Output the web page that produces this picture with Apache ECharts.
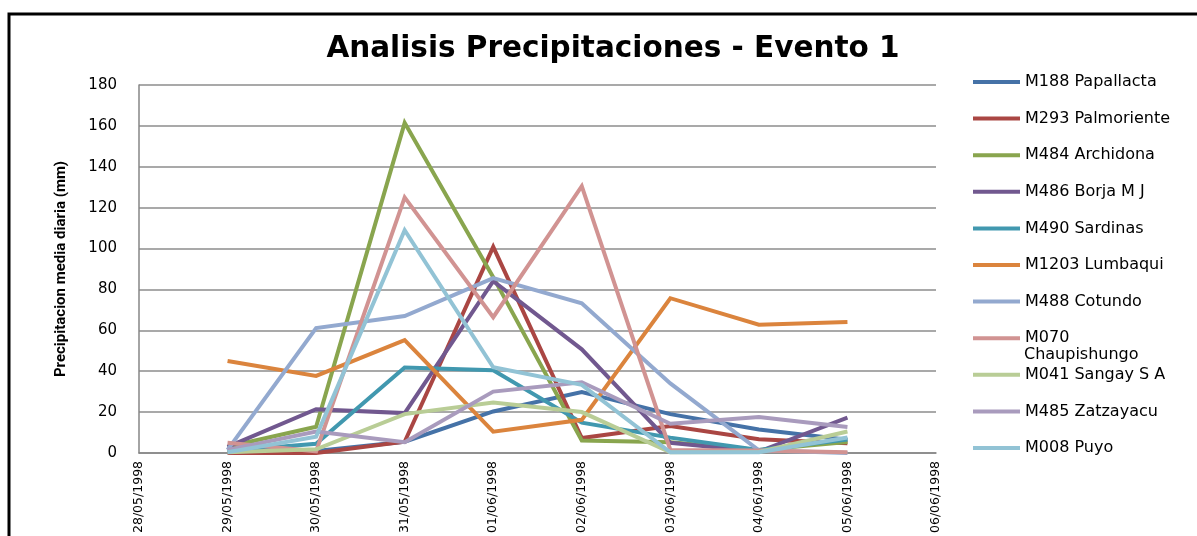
<!DOCTYPE html>
<html>
<head>
<meta charset="utf-8">
<script src="https://cdn.jsdelivr.net/npm/echarts@6/dist/echarts.min.js"></script>
<style>
  html, body { margin: 0; padding: 0; background: #fff; }
  #chart { width: 1197px; height: 536px; }
</style>
</head>
<body>
<div id="chart"></div>
<script>
// Daily dates on the category axis
const dates = ['28/05/1998', '29/05/1998', '30/05/1998', '31/05/1998', '01/06/1998',
               '02/06/1998', '03/06/1998', '04/06/1998', '05/06/1998', '06/06/1998'];

// Mean daily precipitation (mm) per station, 28/05 .. 06/06 (no readings on the end days)
const m188Papallacta   = [null, 0.5, 1.0, 5.5, 20.3, 29.8, 19.0, 11.5, 6.5, null];
const m293Palmoriente  = [null, 0.0, 0.0, 5.5, 100.8, 7.3, 13.2, 6.7, 4.8, null];
const m484Archidona    = [null, 3.0, 12.8, 161.5, 86.0, 6.1, 5.2, 1.5, 5.3, null];
const m486BorjaMJ      = [null, 3.0, 21.4, 19.5, 84.0, 50.7, 5.0, 0.7, 17.3, null];
const m490Sardinas     = [null, 1.0, 4.5, 41.8, 40.5, 14.8, 7.5, 1.5, 6.6, null];
const m1203Lumbaqui    = [null, 45.0, 37.7, 55.2, 10.4, 16.2, 75.7, 62.7, 64.1, null];
const m488Cotundo      = [null, 1.5, 61.1, 67.0, 85.5, 73.2, 34.0, 1.3, 0.0, null];
const m070Chaupishungo = [null, 5.0, 0.8, 125.0, 66.4, 130.5, 1.5, 1.2, 0.3, null];
const m041SangaySA     = [null, 0.3, 1.8, 19.0, 24.7, 20.0, 0.3, 0.5, 10.5, null];
const m485Zatzayacu    = [null, 1.5, 10.5, 5.3, 30.0, 34.6, 14.3, 17.6, 12.7, null];
const m008Puyo         = [null, 0.3, 8.0, 109.0, 41.9, 33.3, 0.3, 0.3, 7.6, null];

// Y axis range
const yMin = 0, yMax = 180, yStep = 20;

const stations = [
  { name: 'M188 Papallacta',   data: m188Papallacta,   color: '#4572A7' },
  { name: 'M293 Palmoriente',  data: m293Palmoriente,  color: '#AA4643' },
  { name: 'M484 Archidona',    data: m484Archidona,    color: '#89A54E' },
  { name: 'M486 Borja M J',    data: m486BorjaMJ,      color: '#71588F' },
  { name: 'M490 Sardinas',     data: m490Sardinas,     color: '#4198AF' },
  { name: 'M1203 Lumbaqui',    data: m1203Lumbaqui,    color: '#DB843D' },
  { name: 'M488 Cotundo',      data: m488Cotundo,      color: '#93A9CF' },
  { name: 'M070 Chaupishungo', data: m070Chaupishungo, color: '#D19392' },
  { name: 'M041 Sangay S A',   data: m041SangaySA,     color: '#B9CD96' },
  { name: 'M485 Zatzayacu',    data: m485Zatzayacu,    color: '#A99BBD' },
  { name: 'M008 Puyo',         data: m008Puyo,         color: '#92C3D5' }
];

const chart = echarts.init(document.getElementById('chart'), null, { renderer: 'canvas' });

const legendFont = { fontFamily: 'DejaVu Sans', fontSize: 16, color: '#000', lineHeight: 18 };

chart.setOption({
  animation: false,
  backgroundColor: '#fff',
  title: {
    text: 'Analisis Precipitaciones - Evento 1',
    left: 608,
    top: 29,
    textAlign: 'center',
    textStyle: { fontFamily: 'DejaVu Sans', fontWeight: 'bold', fontSize: 29.5, color: '#000' }
  },
  legend: {
    orient: 'vertical',
    left: 973,
    top: 73,
    icon: 'rect',
    itemWidth: 47,
    itemHeight: 4,
    itemGap: 18.6,
    padding: 0,
    textStyle: legendFont,
    formatter: function (name) {
      // the Chaupishungo label wraps; its second line is drawn below
      return name === 'M070 Chaupishungo' ? 'M070' : name;
    },
    data: stations.map(s => s.name)
  },
  graphic: [
    {
      type: 'text',
      left: 1024,
      top: 347,
      style: { text: 'Chaupishungo', font: '16px "DejaVu Sans"', fill: '#000' }
    },
    {
      type: 'rect',
      shape: { x: 9, y: 14, width: 1300, height: 700 },
      style: { fill: null, stroke: '#000', lineWidth: 3 },
      silent: true
    }
  ],
  grid: { left: 139, right: 261, top: 85, bottom: 83, containLabel: false },
  xAxis: {
    type: 'category',
    data: dates,
    boundaryGap: false,
    axisLine: { lineStyle: { color: '#868686', width: 1.5 } },
    axisTick: { show: false },
    axisLabel: {
      rotate: 90,
      interval: 0,
      margin: 8,
      fontFamily: 'DejaVu Sans',
      fontSize: 12.5,
      color: '#000'
    },
    splitLine: { show: false }
  },
  yAxis: {
    type: 'value',
    min: yMin,
    max: yMax,
    interval: yStep,
    name: 'Precipitacion media diaria (mm)',
    nameLocation: 'middle',
    nameGap: 70,
    nameTextStyle: { fontFamily: 'Liberation Sans Narrow, Roboto', fontWeight: 'bold', fontSize: 15, color: '#000' },
    axisLine: { show: true, lineStyle: { color: '#868686', width: 1.5 } },
    axisTick: { show: false },
    axisLabel: { fontFamily: 'DejaVu Sans', fontSize: 15, color: '#000', margin: 22 },
    splitLine: { lineStyle: { color: '#8c8c8c', width: 1.5 } }
  },
  series: stations.map(s => ({
    name: s.name,
    type: 'line',
    data: s.data,
    showSymbol: false,
    symbol: 'none',
    connectNulls: false,
    lineStyle: { color: s.color, width: 4, join: 'miter' },
    itemStyle: { color: s.color }
  }))
});
</script>
</body>
</html>
